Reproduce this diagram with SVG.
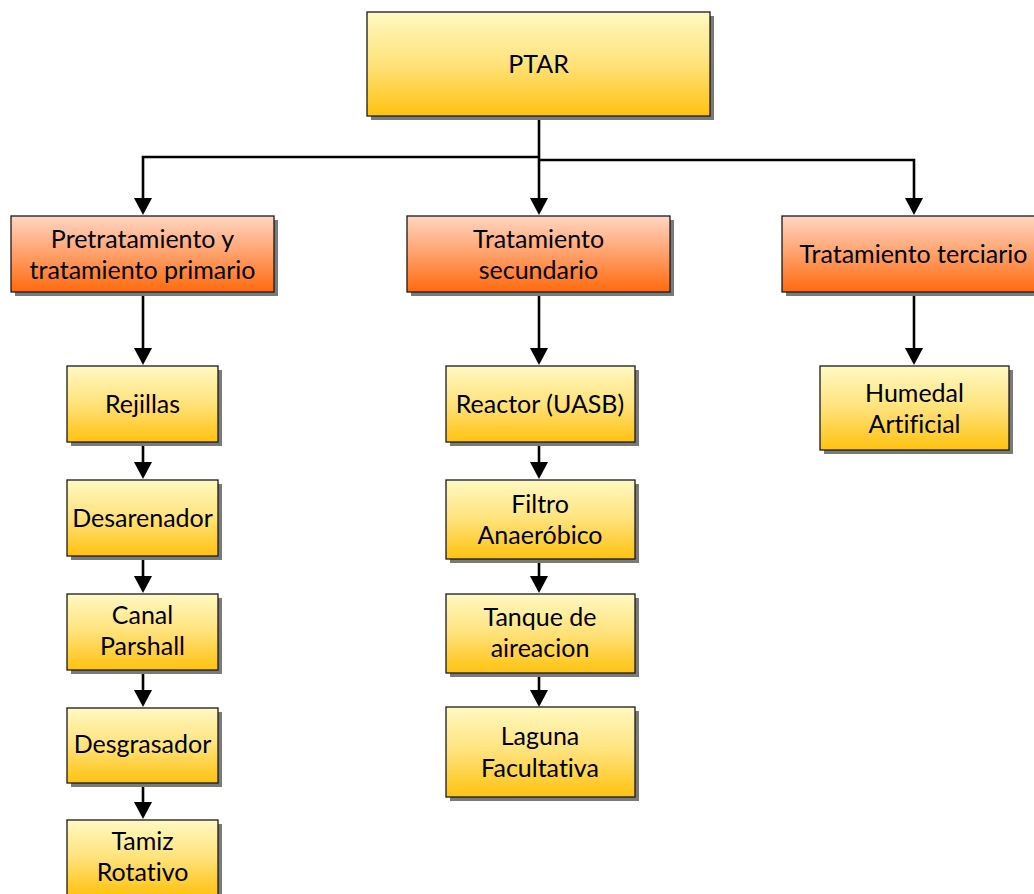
<svg xmlns="http://www.w3.org/2000/svg" width="1034" height="894" viewBox="0 0 1034 894">
<defs>
<linearGradient id="gy" x1="0" y1="0" x2="0" y2="1">
<stop offset="0" stop-color="#FFF9C2"/>
<stop offset="0.5" stop-color="#FFE27A"/>
<stop offset="1" stop-color="#FFC20E"/>
</linearGradient>
<linearGradient id="go" x1="0" y1="0" x2="0" y2="1">
<stop offset="0" stop-color="#FFD6C2"/>
<stop offset="0.5" stop-color="#FFA06A"/>
<stop offset="1" stop-color="#FF6A0C"/>
</linearGradient>
<marker id="ah" markerUnits="userSpaceOnUse" markerWidth="18" markerHeight="18" refX="2" refY="9" orient="auto" viewBox="0 0 18 18">
<path d="M0,0 L17,9 L0,18 z" fill="#000"/>
</marker>
<style>
.sh{fill:#7a7a7a;}
.y{fill:url(#gy);stroke:#1a1a1a;stroke-width:1.3;}
.o{fill:url(#go);stroke:#1a1a1a;stroke-width:1.3;}
text{font-family:Lato,"Open Sans","Liberation Sans",sans-serif;font-size:25px;fill:#000;text-anchor:middle;font-variant-ligatures:none;font-feature-settings:"liga" 0,"dlig" 0;}
.c{fill:none;stroke:#000;stroke-width:2.6;marker-end:url(#ah);}
</style>
</defs>
<rect width="1034" height="894" fill="#fff"/>

<g id="connectors">
<path class="c" d="M539,116 V200"/>
<path class="c" d="M539,157 H143 V200"/>
<path class="c" d="M539,160 H914 V200"/>
<path class="c" d="M143,292 V350"/>
<path class="c" d="M143,442 V464"/>
<path class="c" d="M143,556 V578"/>
<path class="c" d="M143,670 V692"/>
<path class="c" d="M143,783 V804"/>
<path class="c" d="M539,292 V350"/>
<path class="c" d="M539,442 V464"/>
<path class="c" d="M539,559 V578"/>
<path class="c" d="M539,673 V692"/>
<path class="c" d="M914,292 V350"/>
</g>

<g id="n-ptar">
<rect class="sh" x="371" y="16" width="343" height="104"/>
<rect class="y" x="367" y="12" width="343" height="104"/>
<text x="538.5" y="73">PTAR</text>
</g>

<g id="n-pre">
<rect class="sh" x="15" y="220" width="263" height="76"/>
<rect class="o" x="11" y="216" width="263" height="76"/>
<text x="142.5" y="248">Pretratamiento y</text>
<text x="142.5" y="279">tratamiento primario</text>
</g>

<g id="n-sec">
<rect class="sh" x="411" y="220" width="263" height="76"/>
<rect class="o" x="407" y="216" width="263" height="76"/>
<text x="538.5" y="248">Tratamiento</text>
<text x="538.5" y="279">secundario</text>
</g>

<g id="n-ter">
<rect class="sh" x="786" y="220" width="263" height="76"/>
<rect class="o" x="782" y="216" width="263" height="76"/>
<text x="913.5" y="263">Tratamiento terciario</text>
</g>

<g id="n-rejillas">
<rect class="sh" x="71" y="370" width="151" height="76"/>
<rect class="y" x="67" y="366" width="151" height="76"/>
<text x="142.5" y="413">Rejillas</text>
</g>

<g id="n-desarenador">
<rect class="sh" x="71" y="484" width="151" height="76"/>
<rect class="y" x="67" y="480" width="151" height="76"/>
<text x="142.5" y="527">Desarenador</text>
</g>

<g id="n-canal">
<rect class="sh" x="71" y="598" width="151" height="76"/>
<rect class="y" x="67" y="594" width="151" height="76"/>
<text x="142.5" y="624">Canal</text>
<text x="142.5" y="655">Parshall</text>
</g>

<g id="n-desgrasador">
<rect class="sh" x="71" y="712" width="151" height="75"/>
<rect class="y" x="67" y="708" width="151" height="75"/>
<text x="142.5" y="753">Desgrasador</text>
</g>

<g id="n-tamiz">
<rect class="sh" x="71" y="824" width="151" height="76"/>
<rect class="y" x="67" y="820" width="151" height="76"/>
<text x="142.5" y="850">Tamiz</text>
<text x="142.5" y="881">Rotativo</text>
</g>

<g id="n-reactor">
<rect class="sh" x="450" y="370" width="189" height="76"/>
<rect class="y" x="446" y="366" width="189" height="76"/>
<text x="540" y="413">Reactor (UASB)</text>
</g>

<g id="n-filtro">
<rect class="sh" x="450" y="484" width="189" height="79"/>
<rect class="y" x="446" y="480" width="189" height="79"/>
<text x="540" y="513">Filtro</text>
<text x="540" y="544">Anaeróbico</text>
</g>

<g id="n-tanque">
<rect class="sh" x="450" y="598" width="189" height="79"/>
<rect class="y" x="446" y="594" width="189" height="79"/>
<text x="540" y="626">Tanque de</text>
<text x="540" y="657">aireacion</text>
</g>

<g id="n-laguna">
<rect class="sh" x="450" y="711" width="189" height="90"/>
<rect class="y" x="446" y="707" width="189" height="90"/>
<text x="540" y="745">Laguna</text>
<text x="540" y="777">Facultativa</text>
</g>

<g id="n-humedal">
<rect class="sh" x="824" y="370" width="189" height="84"/>
<rect class="y" x="820" y="366" width="189" height="84"/>
<text x="914.5" y="402">Humedal</text>
<text x="914.5" y="433">Artificial</text>
</g>
</svg>
